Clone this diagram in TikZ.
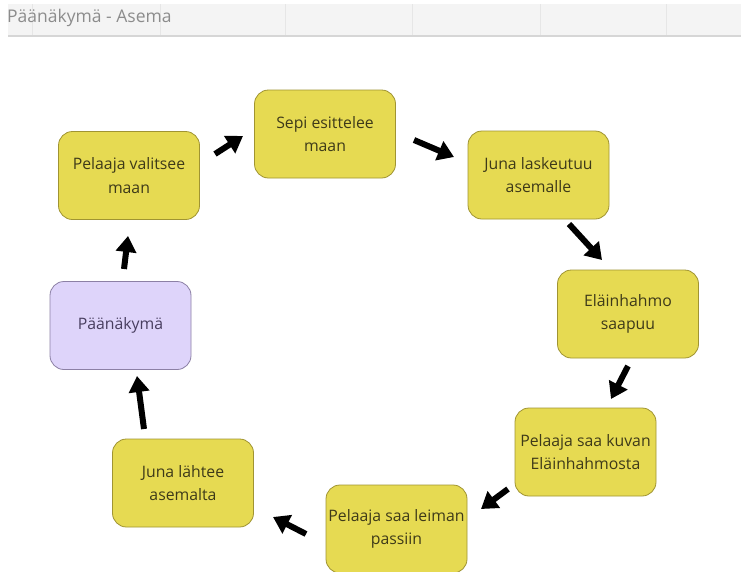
\documentclass[tikz,border=0pt]{standalone}
\usepackage{fontspec}
\setmainfont{Open Sans}
\usetikzlibrary{arrows.meta}
\definecolor{boxyellow}{RGB}{230,218,82}
\definecolor{boxyellowline}{RGB}{160,148,50}
\definecolor{boxyellowtext}{RGB}{62,58,25}
\definecolor{boxlav}{RGB}{222,212,250}
\definecolor{boxlavline}{RGB}{140,128,165}
\definecolor{boxlavtext}{RGB}{72,62,95}
\definecolor{barfill}{RGB}{244,244,244}
\definecolor{barline}{RGB}{214,214,214}
\definecolor{bardiv}{RGB}{230,230,230}
\definecolor{bartext}{RGB}{140,140,140}
\tikzset{
  stepbox/.style={draw=boxyellowline, fill=boxyellow, line width=0.8pt,
    rounded corners=14pt, minimum width=141pt, minimum height=88pt,
    align=center, font=\fontsize{15.8}{23.5}\selectfont, text=boxyellowtext, inner sep=0pt},
  lavbox/.style={stepbox, draw=boxlavline, fill=boxlav, text=boxlavtext},
  flowarrow/.style={line width=6pt, -{Triangle[length=16pt,width=20pt]}, black}
}
\begin{document}
\begin{tikzpicture}[x=1pt,y=-1pt]
\useasboundingbox (0,0) rectangle (741,571);
\fill[white] (0,0) rectangle (741,571);
% top bar
\fill[barfill] (8,4) rectangle (741,36);
\draw[barline, line width=1.5pt] (8,36) -- (741,36);
\foreach \xx in {32,160,285,412,540,666}
  \draw[bardiv, line width=0.8pt] (\xx,4) -- (\xx,35);
\node[anchor=west, text=bartext, font=\fontsize{17.5}{19}\selectfont, inner sep=0pt] (title) at (7,18) {Päänäkymä - Asema};
% boxes
\node[stepbox] (valitsee) at (129,175.5) {Pelaaja valitsee\\maan};
\node[stepbox] (sepi) at (325,134) {Sepi esittelee\\maan};
\node[stepbox] (laskeutuu) at (538.5,175) {Juna laskeutuu\\asemalle};
\node[stepbox] (saapuu) at (628,314) {Eläinhahmo\\saapuu};
\node[stepbox] (kuvan) at (585.5,452) {Pelaaja saa kuvan\\Eläinhahmosta};
\node[stepbox] (leiman) at (396.5,529) {Pelaaja saa leiman\\passiin};
\node[stepbox] (lahtee) at (183,483) {Juna lähtee\\asemalta};
\node[lavbox] (paanakyma) at (120.5,325.5) {Päänäkymä};
% arrow end points
\coordinate (a1s) at (215,154); \coordinate (a1e) at (243,136);
\coordinate (a2s) at (414,140); \coordinate (a2e) at (454,157);
\coordinate (a3s) at (569,224); \coordinate (a3e) at (602,260);
\coordinate (a4s) at (628,366); \coordinate (a4e) at (611,399);
\coordinate (a5s) at (508,489); \coordinate (a5e) at (481,509);
\coordinate (a6s) at (306,534); \coordinate (a6e) at (273,517);
\coordinate (a7s) at (144,429); \coordinate (a7e) at (137,376);
\coordinate (a8s) at (124,269); \coordinate (a8e) at (128,236);
\foreach \i in {1,...,8}
  \draw[flowarrow] (a\i s) -- (a\i e);
\end{tikzpicture}
\end{document}
